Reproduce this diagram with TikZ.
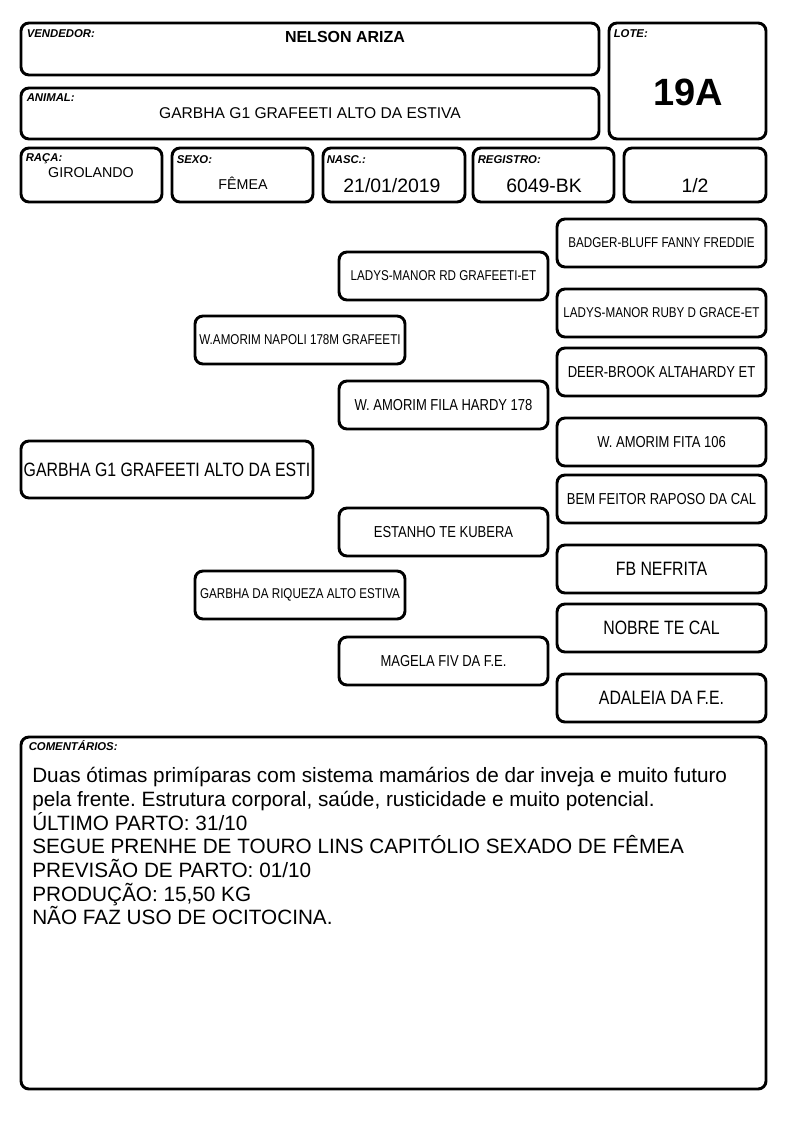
\documentclass[tikz,border=0pt]{standalone}
\usepackage{fontspec}
\setmainfont{Liberation Sans}
\newfontfamily\pedfont[FakeStretch=0.82]{Liberation Sans}
\usetikzlibrary{calc}
\frenchspacing

\begin{document}
\def\px{0.75pt}
\begin{tikzpicture}[x=\px,y=-\px,
    box/.style={draw,line width=2.2pt,rounded corners=6pt,fill=white,inner sep=0pt},
    lbl/.style={anchor=base west,inner sep=0pt,font=\fontsize{8.5pt}{9pt}\selectfont\bfseries\itshape},
    val/.style={anchor=base,inner sep=0pt},
    ped/.style={box,minimum width=209*\px,minimum height=48*\px},
    psmall/.style={font=\pedfont\fontsize{10.65pt}{12pt}\selectfont},
    pmed/.style={font=\pedfont\fontsize{11.9pt}{13pt}\selectfont},
    plarge/.style={font=\pedfont\fontsize{14.5pt}{16pt}\selectfont}]

    \useasboundingbox (0,0) rectangle (794,1123);

%the header
    \node[box,minimum width=578*\px,minimum height=52*\px] (vend) at (310,49) {};
    \node[box,minimum width=157*\px,minimum height=116*\px] (lote) at (687.5,81) {};
    \node[box,minimum width=578*\px,minimum height=51*\px] (anim) at (310,113.5) {};
    \node[lbl] (vendlbl) at ($(vend.north west)+(7,16)$) {VENDEDOR:};
    \node[val,font=\fontsize{12pt}{14pt}\selectfont\bfseries] (vendval) at (345,43) {NELSON ARIZA};
    \node[lbl] (lotelbl) at ($(lote.north west)+(6,16)$) {LOTE:};
    \node[val,font=\fontsize{28.5pt}{30pt}\selectfont\bfseries] (loteval) at (688,106) {19A};
    \node[lbl] (animlbl) at ($(anim.north west)+(7,15)$) {ANIMAL:};
    \node[val,font=\fontsize{11.7pt}{13pt}\selectfont] (animval) at (310,119) {GARBHA G1 GRAFEETI ALTO DA ESTIVA};

% second row of the header
    \foreach \nm/\x/\w in {raca/91.5/141, sexo/242.5/141, nasc/394/142, reg/543.5/141, frac/695/142}
        \node[box,minimum width=\w*\px,minimum height=54*\px] (\nm) at (\x,175) {};
    \node[lbl] (racalbl) at ($(raca.north west)+(6,15)$) {RAÇA:};
    \node[lbl] (sexolbl) at ($(sexo.north west)+(6,17)$) {SEXO:};
    \node[lbl] (nasclbl) at ($(nasc.north west)+(5,17)$) {NASC.:};
    \node[lbl] (reglbl) at ($(reg.north west)+(6,17)$) {REGISTRO:};
    \node[val,font=\fontsize{10.7pt}{12pt}\selectfont] (racaval) at (91,178) {GIROLANDO};
    \node[val,font=\fontsize{10.7pt}{12pt}\selectfont] (sexoval) at (243,190) {FÊMEA};
    \node[val,font=\fontsize{14.55pt}{16pt}\selectfont] (nascval) at (392,193) {21/01/2019};
    \node[val,font=\fontsize{14.55pt}{16pt}\selectfont] (regval) at (544,193) {6049-BK};
    \node[val,font=\fontsize{14.55pt}{16pt}\selectfont] (fracval) at (695,193) {1/2};

% the pedigree
    \node[box,plarge,minimum width=292*\px,minimum height=57*\px] (filha) at (167,469.5) {GARBHA G1 GRAFEETI ALTO DA ESTI};
    \node[ped,psmall,minimum width=210*\px] (pai) at (300,340) {W.AMORIM NAPOLI 178M GRAFEETI};
    \node[ped,psmall,minimum width=210*\px] (mae) at (300,595) {GARBHA DA RIQUEZA ALTO ESTIVA};
    \foreach \y/\nm/\sz [count=\i] in {276/LADYS-MANOR RD GRAFEETI-ET/psmall, 405/W. AMORIM FILA HARDY 178/pmed,
        532/ESTANHO TE KUBERA/pmed, 661/MAGELA FIV DA F.E./pmed}
        \node[ped,\sz] (avo\i) at (443.5,\y) {\nm};
    \foreach \y/\nm/\sz [count=\i] in {243/BADGER-BLUFF FANNY FREDDIE/psmall, 313/LADYS-MANOR RUBY D GRACE-ET/psmall,
        372/DEER-BROOK ALTAHARDY ET/pmed, 442/W. AMORIM FITA 106/pmed, 499/BEM FEITOR RAPOSO DA CAL/pmed,
        569/FB NEFRITA/plarge, 628/NOBRE TE CAL/plarge, 698/ADALEIA DA F.E./plarge}
        \node[ped,\sz] (bis\i) at (661.5,\y) {\nm};

% the comments
    \node[box,minimum width=745*\px,minimum height=352*\px] (obs) at (393.5,913) {};
    \node[lbl] (obslbl) at ($(obs.north west)+(9,15)$) {COMENTÁRIOS:};
    \node[anchor=north west,inner sep=0pt,align=left,font=\fontsize{15.55pt}{17.8pt}\selectfont] (obstxt) at (32,767)
        {Duas ótimas primíparas com sistema mamários de dar inveja e muito futuro\\
         pela frente. Estrutura corporal, saúde, rusticidade e muito potencial.\\
         ÚLTIMO PARTO: 31/10\\
         SEGUE PRENHE DE TOURO LINS CAPITÓLIO SEXADO DE FÊMEA\\
         PREVISÃO DE PARTO: 01/10\\
         PRODUÇÃO: 15,50 KG\\
         NÃO FAZ USO DE OCITOCINA.};
\end{tikzpicture}
\end{document}
